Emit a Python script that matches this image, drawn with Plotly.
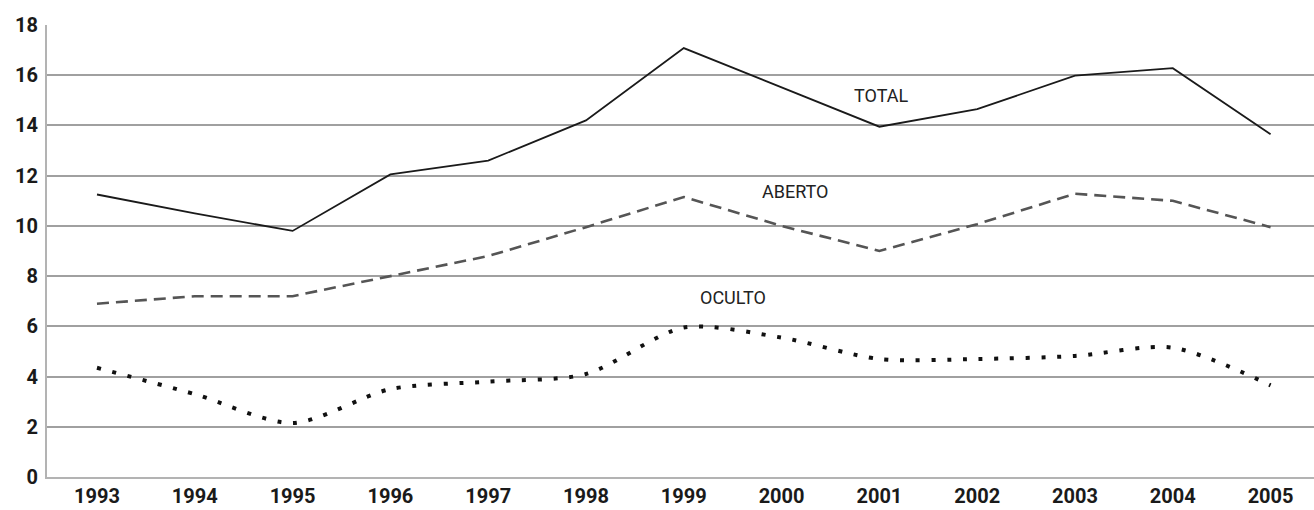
import plotly.graph_objects as go

years = ["1993", "1994", "1995", "1996", "1997", "1998", "1999", "2000", "2001", "2002", "2003", "2004", "2005"]
total = [11.25, 10.5, 9.8, 12.05, 12.6, 14.2, 17.08, 15.5, 13.95, 14.65, 15.98, 16.28, 13.65]
aberto = [6.9, 7.2, 7.2, 8.0, 8.8, 9.95, 11.15, 10.0, 9.0, 10.07, 11.28, 11.0, 9.95]
oculto = [4.35, 3.3, 2.15, 3.5, 3.8, 4.1, 5.95, 5.55, 4.7, 4.7, 4.82, 5.15, 3.65]
yticks = [0, 2, 4, 6, 8, 10, 12, 14, 16, 18]
labels = ["TOTAL", "ABERTO", "OCULTO"]
label_x = [8.02, 7.14, 6.50]
label_y = [15.2, 11.35, 7.15]

xi = list(range(len(years)))
FONT = "Roboto, Liberation Sans Narrow, DejaVu Sans Condensed, sans-serif"

fig = go.Figure()
fig.add_trace(go.Scatter(x=xi, y=total, mode="lines", name="TOTAL",
                         line=dict(color="#1a1a1a", width=1.8)))
fig.add_trace(go.Scatter(x=xi, y=aberto, mode="lines", name="ABERTO",
                         line=dict(color="#555555", width=2.6, dash="12px,7px")))
fig.add_trace(go.Scatter(x=xi, y=oculto, mode="lines", name="OCULTO",
                         line=dict(color="#111111", width=4, dash="4px,11.7px",
                                   shape="spline", smoothing=0.8)))

for txt, xv, yv in zip(labels, label_x, label_y):
    fig.add_annotation(x=xv, y=yv, text=txt, showarrow=False,
                       font=dict(family=FONT, size=18, color="#222222"))

fig.update_layout(
    width=1314, height=510,
    margin=dict(l=47, r=0, t=25, b=33),
    paper_bgcolor="white", plot_bgcolor="white",
    showlegend=False,
    font=dict(family=FONT, color="#222222"),
)
fig.update_xaxes(
    range=[-0.511, 12.444], tickmode="array", tickvals=xi, ticktext=years,
    showgrid=False, zeroline=False, showline=True, linecolor="#b3b3b3", linewidth=2,
    ticks="", tickfont=dict(family=FONT, size=20, color="#1a1a1a", weight="bold"),
)
fig.update_yaxes(
    range=[0, 18], tickmode="array", tickvals=yticks,
    showgrid=True, gridcolor="#a0a0a0", gridwidth=1.5, zeroline=False,
    showline=True, linecolor="#b3b3b3", linewidth=2, ticks="",
    ticklabelstandoff=3,
    tickfont=dict(family=FONT, size=20, color="#1a1a1a", weight="bold"),
)

fig.write_html("out.html", config={"displayModeBar": False},
               post_script="document.body.style.margin='0';")
